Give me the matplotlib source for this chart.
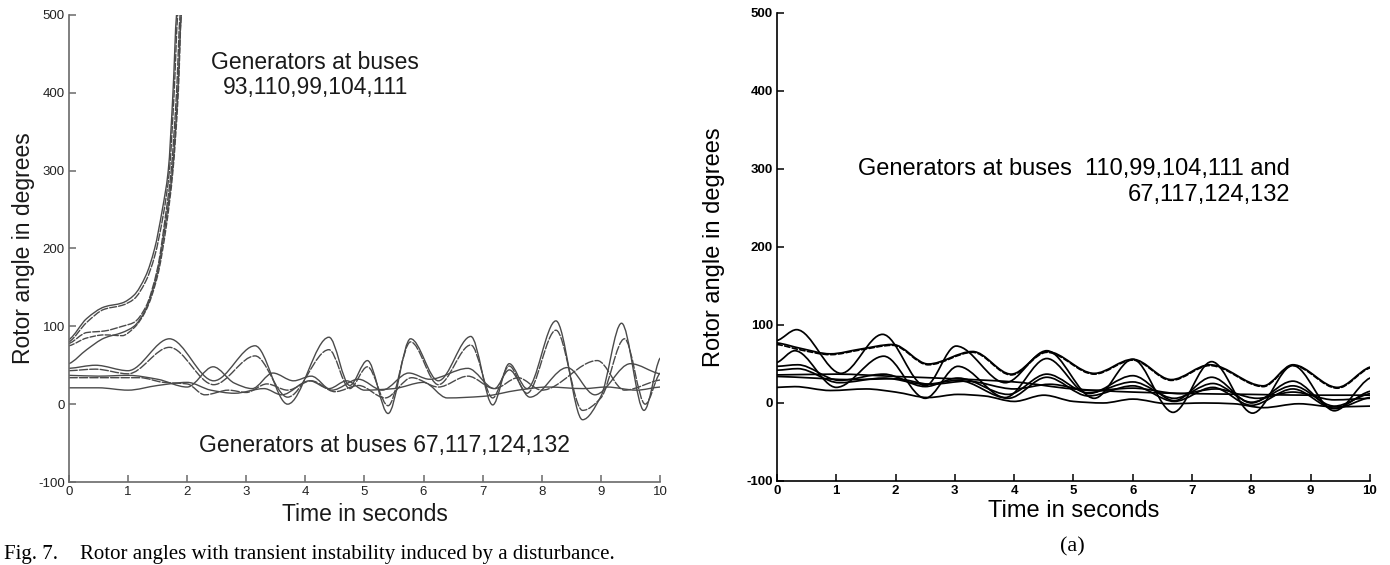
import matplotlib
matplotlib.use("Agg")
import matplotlib.pyplot as plt
import numpy as np
from matplotlib.path import Path
from matplotlib.patches import PathPatch

# ---------------- data ----------------
x_ticks = [0, 1, 2, 3, 4, 5, 6, 7, 8, 9, 10]
y_ticks = [-100, 0, 100, 200, 300, 400, 500]

# Left panel: unstable generators (93,110,99,104,111)
lu1_t = [0, 0.3, 0.6, 0.9, 1.1, 1.3, 1.45, 1.58, 1.68, 1.76, 1.82]
lu1_v = [83, 110, 125, 130, 140, 165, 200, 250, 300, 400, 500]
lu2_t = [0, 0.3, 0.6, 0.9, 1.1, 1.3, 1.45, 1.6, 1.7, 1.78, 1.84]
lu2_v = [80, 105, 122, 127, 135, 158, 190, 245, 300, 400, 500]
lu3_t = [0, 0.3, 0.6, 0.9, 1.1, 1.3, 1.5, 1.63, 1.73, 1.82, 1.88]
lu3_v = [78, 92, 94, 100, 105, 125, 175, 240, 300, 400, 500]
lu4_t = [0, 0.3, 0.6, 0.9, 1.1, 1.3, 1.5, 1.65, 1.76, 1.85, 1.9]
lu4_v = [75, 85, 89, 88, 98, 120, 165, 230, 300, 400, 500]
lu5_t = [0, 0.3, 0.6, 0.9, 1.1, 1.3, 1.5, 1.64, 1.75, 1.84, 1.9]
lu5_v = [52, 70, 85, 92, 100, 122, 170, 235, 300, 400, 500]

# Left panel: stable generators (67,117,124,132)
ls1_t = [0, 0.45, 1.0, 1.7, 2.45, 3.15, 3.7, 4.4, 4.75, 5.05, 5.4, 5.78, 6.25, 6.8, 7.17, 7.45, 7.75, 8.24, 8.69, 9.0, 9.35, 9.73, 10]
ls1_v = [46, 50, 43, 84, 30, 75, 0, 86, 24, 56, -12, 84, 30, 87, -1, 52, 20, 107, -20, 10, 104, -8, 59]
ls2_t = [0, 0.45, 1.0, 1.7, 2.45, 3.15, 3.7, 4.4, 4.75, 5.05, 5.4, 5.78, 6.25, 6.8, 7.17, 7.45, 7.75, 8.24, 8.69, 9.0, 9.4, 9.75, 10]
ls2_v = [43, 45, 39, 73, 25, 62, 9, 70, 20, 48, -2, 80, 25, 76, 8, 49, 14, 95, -8, 8, 84, 0, 40]
ls3_t = [0, 0.5, 1.0, 1.5, 2.0, 2.44, 2.8, 3.1, 3.45, 3.8, 4.1, 4.45, 4.9, 5.3, 5.75, 6.1, 6.75, 7.2, 7.45, 7.8, 8.43, 8.9, 9.5, 10]
ls3_v = [37, 36, 37, 32, 22, 48, 27, 20, 40, 30, 36, 18, 32, 18, 40, 32, 46, 20, 44, 9, 47, 12, 52, 39]
ls4_t = [0, 0.6, 1.2, 1.6, 2.0, 2.3, 2.7, 3.0, 3.35, 3.7, 4.1, 4.5, 4.9, 5.35, 5.8, 6.25, 6.75, 7.2, 7.6, 8.0, 8.94, 9.4, 10]
ls4_v = [34, 34, 34, 28, 26, 12, 18, 15, 26, 18, 30, 16, 24, 8, 34, 22, 36, 20, 34, 18, 56, 18, 31]
ls5_t = [0, 0.5, 1.0, 1.5, 2.0, 2.4, 2.8, 3.3, 3.6, 4.07, 4.4, 4.7, 5.0, 5.5, 6.0, 6.4, 7.0, 7.6, 8.1, 8.7, 9.1, 9.6, 10]
ls5_v = [21, 21, 18, 24, 28, 18, 14, 20, 12, 30, 20, 30, 18, 20, 28, 8, 10, 18, 22, 20, 22, 18, 22]

# Right panel: all generators stable
rd1_t = [0, 0.4, 0.9, 1.4, 1.95, 2.55, 3.3, 3.95, 4.55, 5.35, 6.0, 6.65, 7.3, 8.2, 8.7, 9.45, 10]
rd1_v = [77, 70, 63, 69, 75, 50, 66, 37, 66, 38, 56, 30, 49, 22, 49, 20, 46]
rd2_t = [0, 0.4, 0.9, 1.4, 1.95, 2.55, 3.3, 3.95, 4.55, 5.35, 6.0, 6.65, 7.3, 8.2, 8.7, 9.45, 10]
rd2_v = [75, 68, 62, 68, 74, 49, 65, 36, 65, 37, 55, 29, 48, 21, 48, 19, 45]
rl1_t = [0, 0.33, 1.08, 1.78, 2.5, 3.02, 3.85, 4.55, 5.35, 6.0, 6.68, 7.33, 8.02, 8.7, 9.4, 10]
rl1_v = [80, 94, 38, 88, 22, 73, 26, 67, 6, 56, -12, 53, -13, 48, -10, 32]
rl2_t = [0, 0.3, 1.0, 1.8, 2.5, 3.05, 3.85, 4.55, 5.25, 6.0, 6.7, 7.33, 8.0, 8.7, 9.4, 10]
rl2_v = [52, 67, 20, 60, 6, 47, 7, 57, 12, 35, 3, 33, 0, 28, -7, 15]
rl3_t = [0, 0.35, 1.05, 1.8, 2.5, 3.05, 3.9, 4.55, 5.25, 6.0, 6.7, 7.35, 8.0, 8.7, 9.4, 10]
rl3_v = [47, 49, 29, 37, 21, 32, 11, 37, 13, 27, 6, 25, 1, 22, -4, 12]
rl4_t = [0, 0.35, 1.05, 1.8, 2.5, 3.05, 3.9, 4.55, 5.25, 6.0, 6.7, 7.35, 8.0, 8.7, 9.4, 10]
rl4_v = [42, 44, 26, 32, 24, 29, 6, 33, 9, 22, 2, 20, -3, 18, -7, 7]
rl5_t = [0, 1, 2, 3, 4, 5, 6, 7, 8, 9, 10]
rl5_v = [36, 37, 34, 31, 27, 18, 14, 12, 11, 10, 10]
rl6_t = [0, 0.6, 1.2, 2.0, 2.6, 3.2, 4.0, 4.6, 5.3, 6.0, 6.8, 7.4, 8.1, 8.7, 9.4, 10]
rl6_v = [34, 32, 30, 31, 24, 28, 18, 24, 16, 19, 12, 18, 6, 14, 4, 6]
rl7_t = [0, 0.3, 0.9, 1.5, 2.0, 2.55, 3.05, 3.5, 4.0, 4.5, 5.0, 5.5, 6.0, 6.6, 7.2, 7.7, 8.2, 8.8, 9.4, 10]
rl7_v = [20, 21, 16, 18, 14, 7, 11, 9, 2, 10, 2, 0, 5, -1, 0, -1, -6, -1, -5, -4]

left_title_top = "Generators at buses\n93,110,99,104,111"
left_title_bottom = "Generators at buses 67,117,124,132"
right_title = "Generators at buses  110,99,104,111 and\n67,117,124,132"
y_label = "Rotor angle in degrees"
x_label = "Time in seconds"
caption_a = "Fig. 7."
caption_b = "Rotor angles with transient instability induced by a disturbance."
sub_label = "(a)"


# ---------------- helpers ----------------
def smooth_path(t, v):
    """Cubic Hermite (Bezier) path through the read points."""
    t = np.asarray(t, float)
    v = np.asarray(v, float)
    n = len(t)
    d = np.diff(v) / np.diff(t)
    m = np.zeros(n)
    m[0] = d[0] * 0.5
    m[-1] = d[-1] * 0.5
    for i in range(1, n - 1):
        if d[i - 1] * d[i] <= 0:
            m[i] = 0.0
        else:
            m[i] = 2.0 / (1.0 / d[i - 1] + 1.0 / d[i])
    verts = [(t[0], v[0])]
    codes = [Path.MOVETO]
    for i in range(n - 1):
        h = t[i + 1] - t[i]
        verts.append((t[i] + h / 3, v[i] + m[i] * h / 3))
        verts.append((t[i + 1] - h / 3, v[i + 1] - m[i + 1] * h / 3))
        verts.append((t[i + 1], v[i + 1]))
        codes += [Path.CURVE4] * 3
    return Path(verts, codes)


def draw(ax, t, v, color, lw, ls="-"):
    ax.add_patch(PathPatch(smooth_path(t, v), fill=False, edgecolor=color,
                           lw=lw, linestyle=ls, capstyle="round",
                           joinstyle="round"))


def style_axes(ax, color, tick_weight, tick_color):
    ax.set_xlim(0, 10)
    ax.set_ylim(-100, 500)
    ax.set_xticks(x_ticks)
    ax.set_yticks(y_ticks)
    ax.set_xticklabels([str(x) for x in x_ticks])
    ax.set_yticklabels([str(y) for y in y_ticks])
    for s in ("top", "right"):
        ax.spines[s].set_visible(False)
    for s in ("left", "bottom"):
        ax.spines[s].set_color(color)
        ax.spines[s].set_linewidth(1.2)
    ax.tick_params(direction="in", length=5, width=1.1, color=color,
                   labelsize=9.5, labelcolor=tick_color, pad=3)
    for lab in ax.get_xticklabels() + ax.get_yticklabels():
        lab.set_fontweight(tick_weight)
        lab.set_family("Liberation Sans")


plt.rcParams["font.family"] = ["Liberation Sans", "DejaVu Sans"]
plt.rcParams["axes.unicode_minus"] = False

fig = plt.figure(figsize=(13.9, 5.65), dpi=100)
axL = fig.add_axes([0.0496, 0.1469, 0.4252, 0.8266])
axR = fig.add_axes([0.559, 0.1487, 0.4266, 0.8283])

# ---- left panel ----
style_axes(axL, "#6a6a6a", "normal", "#222222")
gL = "#4a4a4a"
for t, v, ls in ((lu1_t, lu1_v, "-"), (lu2_t, lu2_v, (0, (5, 1.5))),
                 (lu3_t, lu3_v, (0, (5, 1.5))), (lu4_t, lu4_v, (0, (4, 1.5))),
                 (lu5_t, lu5_v, "-")):
    draw(axL, t, v, gL, 1.0, ls)
for t, v, ls in ((ls1_t, ls1_v, "-"), (ls2_t, ls2_v, (0, (6, 1.5))),
                 (ls3_t, ls3_v, "-"), (ls4_t, ls4_v, (0, (6, 1.5))),
                 (ls5_t, ls5_v, "-")):
    draw(axL, t, v, gL, 1.0, ls)

axL.text(4.17, 423, left_title_top, ha="center", va="center",
         fontsize=16.5, linespacing=1.12, color="#1a1a1a")
axL.text(5.34, -53, left_title_bottom, ha="center", va="center",
         fontsize=16.5, color="#1a1a1a")
axL.set_ylabel(y_label, fontsize=16.5, color="#1a1a1a")
axL.yaxis.set_label_coords(-0.0575, 0.5)
axL.set_xlabel(x_label, fontsize=16.5, color="#1a1a1a")
axL.xaxis.set_label_coords(0.5, -0.045)

# ---- right panel ----
style_axes(axR, "#000000", "bold", "#000000")
draw(axR, rd1_t, rd1_v, "black", 1.25, "-")
draw(axR, rd2_t, rd2_v, "black", 1.25, (0, (3, 1.5)))
for t, v in ((rl1_t, rl1_v), (rl2_t, rl2_v), (rl3_t, rl3_v), (rl4_t, rl4_v),
             (rl5_t, rl5_v), (rl6_t, rl6_v), (rl7_t, rl7_v)):
    draw(axR, t, v, "black", 1.25, "-")

axR.text(1.37, 283, right_title, ha="left", va="center", fontsize=17,
         linespacing=1.22, multialignment="right", color="black")
axR.set_ylabel(y_label, fontsize=17, color="black")
axR.yaxis.set_label_coords(-0.0877, 0.5)
axR.set_xlabel(x_label, fontsize=17, color="black")
axR.xaxis.set_label_coords(0.5, -0.041)

# ---- captions ----
serif = ["Liberation Serif", "DejaVu Serif"]
fig.text(0.003, 1 - 545 / 565, caption_a, ha="left", va="top",
         family=serif, fontsize=15)
fig.text(80 / 1390, 1 - 545 / 565, caption_b, ha="left", va="top",
         family=serif, fontsize=15)
fig.text(1072 / 1390, 1 - 547 / 565, sub_label, ha="center", va="center",
         family=serif, fontsize=16)

fig.savefig("out.png", dpi=100)
